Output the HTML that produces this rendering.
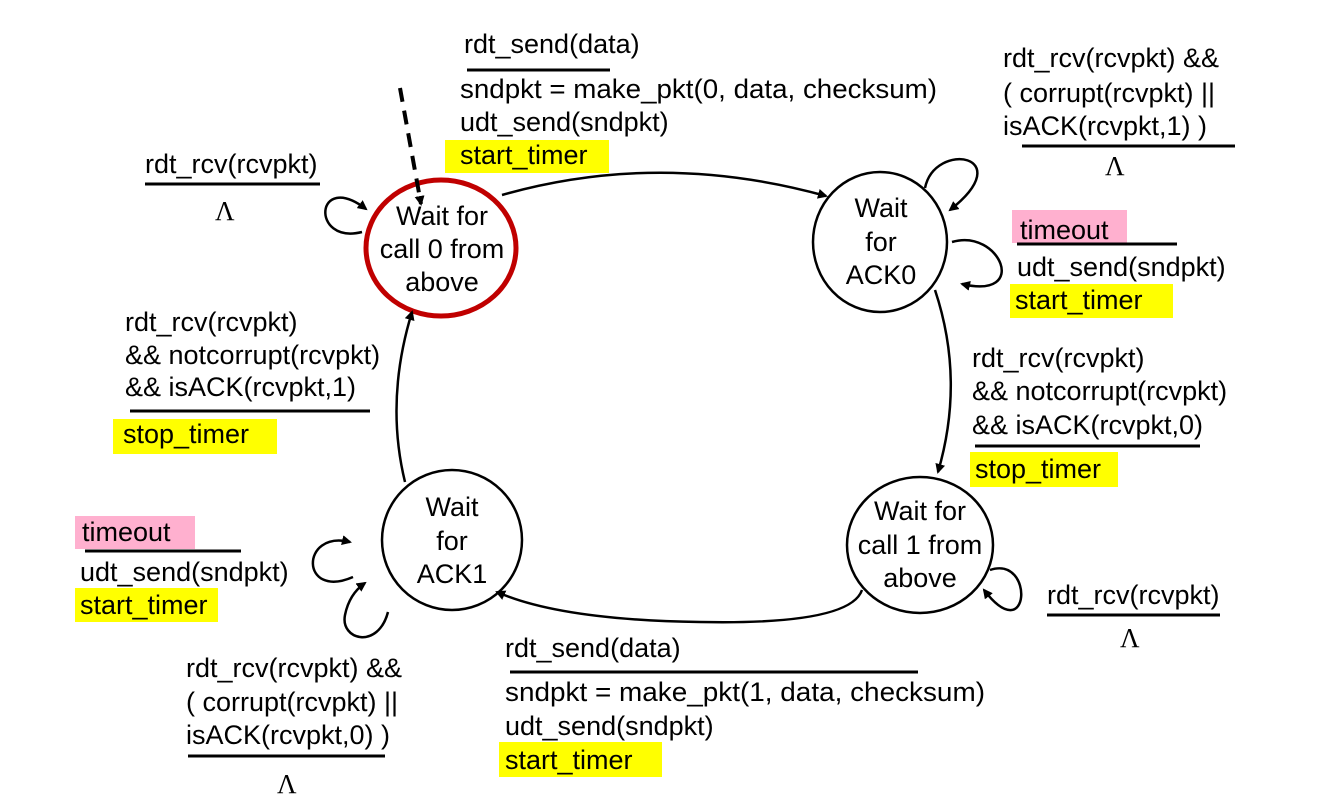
<!DOCTYPE html>
<html><head><meta charset="utf-8"><style>
html,body{margin:0;padding:0;background:#fff;}
svg{display:block;}
text{font-family:"Liberation Sans",Arial,sans-serif;font-size:27px;fill:#000;}
.l{font-family:"Liberation Serif",serif;font-size:27px;}
</style></head><body>
<svg width="1333" height="802" viewBox="0 0 1333 802" xmlns="http://www.w3.org/2000/svg">
<defs>
<marker id="a" markerWidth="10" markerHeight="10" refX="8" refY="5" orient="auto" markerUnits="userSpaceOnUse">
<path d="M0,0 L10,5 L0,10 z" fill="#000"/></marker>
</defs>
<g>
<rect x="445" y="140" width="164" height="33" fill="#ffff00"/>
<rect x="1012" y="210" width="115" height="33" fill="#ffb0cf"/>
<rect x="1010" y="284" width="163" height="34" fill="#ffff00"/>
<rect x="970" y="452" width="148" height="35" fill="#ffff00"/>
<rect x="499" y="742" width="163" height="35" fill="#ffff00"/>
<rect x="75" y="516" width="120" height="33" fill="#ffb0cf"/>
<rect x="75" y="588" width="143" height="34" fill="#ffff00"/>
<rect x="113" y="419" width="164" height="35" fill="#ffff00"/>
</g>
<g stroke="#000" stroke-width="3">
<line x1="467" y1="70" x2="610" y2="70"/>
<line x1="1022" y1="146" x2="1235" y2="146"/>
<line x1="1017" y1="244" x2="1177" y2="244"/>
<line x1="975" y1="446" x2="1200" y2="446"/>
<line x1="1047" y1="615" x2="1220" y2="615"/>
<line x1="510" y1="672" x2="918" y2="672"/>
<line x1="188" y1="756" x2="385" y2="756"/>
<line x1="85" y1="551" x2="241" y2="551"/>
<line x1="130" y1="411" x2="370" y2="411"/>
<line x1="145" y1="184" x2="320" y2="184"/>
</g>
<ellipse cx="441" cy="248" rx="75" ry="68" fill="none" stroke="#c00000" stroke-width="5"/>
<ellipse cx="880" cy="242" rx="67" ry="70" fill="none" stroke="#000" stroke-width="2.5"/>
<ellipse cx="920" cy="545" rx="73" ry="68" fill="none" stroke="#000" stroke-width="2.5"/>
<ellipse cx="452" cy="540" rx="70" ry="70" fill="none" stroke="#000" stroke-width="2.5"/>
<g text-anchor="middle">
<text x="442" y="225">Wait for</text><text x="442" y="258">call 0 from</text><text x="442" y="291">above</text>
<text x="881" y="217">Wait</text><text x="881" y="251">for</text><text x="881" y="284">ACK0</text>
<text x="920" y="520">Wait for</text><text x="920" y="554">call 1 from</text><text x="920" y="587">above</text>
<text x="452" y="516">Wait</text><text x="452" y="550">for</text><text x="452" y="583">ACK1</text>
</g>
<g fill="none" stroke="#000" stroke-width="2.5" marker-end="url(#a)">
<path d="M400,88 L421,204" stroke-width="4" stroke-dasharray="14,9"/>
<path d="M502,195 Q660,150 826,196"/>
<path d="M935,290 Q965,380 938,472"/>
<path d="M862,590 Q850,625 700,622 Q560,620 497,592"/>
<path d="M405,482 Q385,400 412,312"/>
<path d="M362,232 C310,245 315,170 366,209"/>
<path d="M925,188 C935,140 1020,155 950,210"/>
<path d="M952,242 C1000,228 1030,300 962,284"/>
<path d="M990,570 C1035,555 1030,650 984,590"/>
<path d="M353,577 C300,600 300,530 350,542"/>
<path d="M388,612 C378,650 340,640 345,615 C348,600 355,590 365,583"/>
</g>
<text x="464" y="53">rdt_send(data)</text>
<text x="460" y="98" textLength="477" lengthAdjust="spacingAndGlyphs">sndpkt = make_pkt(0, data, checksum)</text>
<text x="460" y="131">udt_send(sndpkt)</text>
<text x="460" y="164">start_timer</text>

<text x="1003" y="67">rdt_rcv(rcvpkt) &amp;&amp;</text>
<text x="1003" y="102">( corrupt(rcvpkt) ||</text>
<text x="1003" y="135">isACK(rcvpkt,1) )</text>
<text class="l" x="1105" y="175">Λ</text>
<text x="1020" y="239">timeout</text>
<text x="1017" y="276">udt_send(sndpkt)</text>
<text x="1015" y="309">start_timer</text>

<text x="972" y="367">rdt_rcv(rcvpkt)</text>
<text x="972" y="400">&amp;&amp; notcorrupt(rcvpkt)</text>
<text x="972" y="434">&amp;&amp; isACK(rcvpkt,0)</text>
<text x="975" y="478">stop_timer</text>

<text x="1047" y="604">rdt_rcv(rcvpkt)</text>
<text class="l" x="1120" y="647">Λ</text>

<text x="505" y="657">rdt_send(data)</text>
<text x="505" y="701" textLength="480" lengthAdjust="spacingAndGlyphs">sndpkt = make_pkt(1, data, checksum)</text>
<text x="505" y="735">udt_send(sndpkt)</text>
<text x="505" y="769">start_timer</text>

<text x="186" y="677">rdt_rcv(rcvpkt) &amp;&amp;</text>
<text x="186" y="711">( corrupt(rcvpkt) ||</text>
<text x="186" y="744">isACK(rcvpkt,0) )</text>
<text class="l" x="277" y="793">Λ</text>

<text x="82" y="541">timeout</text>
<text x="80" y="581">udt_send(sndpkt)</text>
<text x="80" y="614">start_timer</text>

<text x="125" y="331">rdt_rcv(rcvpkt)</text>
<text x="125" y="364">&amp;&amp; notcorrupt(rcvpkt)</text>
<text x="125" y="396">&amp;&amp; isACK(rcvpkt,1)</text>
<text x="123" y="443">stop_timer</text>

<text x="145" y="173">rdt_rcv(rcvpkt)</text>
<text class="l" x="215" y="220">Λ</text>
</svg>
</body></html>
